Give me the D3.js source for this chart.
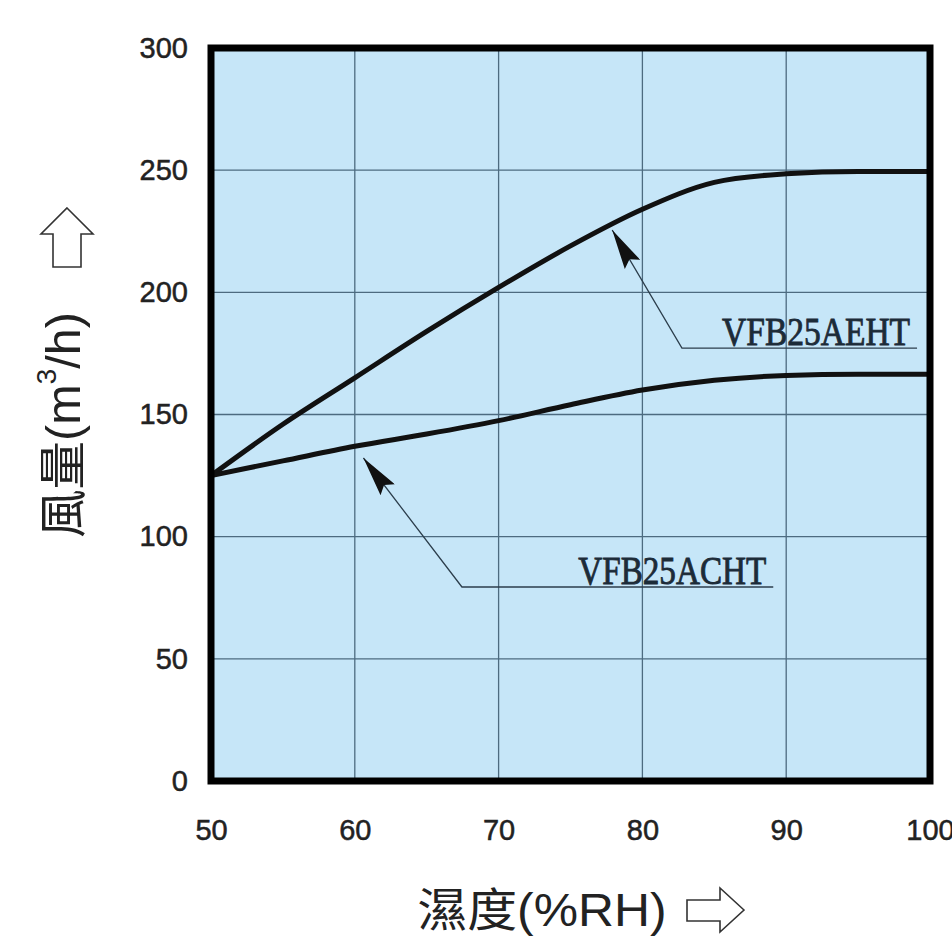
<!DOCTYPE html>
<html lang="zh-Hant">
<head>
<meta charset="UTF-8">
<title>風量 vs 濕度</title>
<script src="https://cdn.jsdelivr.net/npm/d3@7"></script>
<style>
    body { margin: 0; background: #fff; }
    svg { display: block; }
</style>
</head>
<body>
<script>
    // data
    const humidity = [50, 55, 60, 65, 70, 75, 80, 85, 90, 95, 100]
    const aehtFlow = [125, 146, 165, 184, 202, 219, 234, 245, 248.5, 249.5, 249.5]
    const achtFlow = [125, 131, 137, 142, 147.5, 154, 160, 164, 166, 166.5, 166.5]
    const xTicks = [50, 60, 70, 80, 90, 100]
    const yTicks = [0, 50, 100, 150, 200, 250, 300]
    const seriesNames = ["VFB25AEHT", "VFB25ACHT"]
    // callouts: [tip x, tip y, elbow x, elbow y, end x] in data units
    const callouts = [
        [77.9, 225.5, 82.75, 177.2, 99.1],
        [60.6, 132.2, 67.45, 79.4, 89.1]
    ]

    const W = 952, H = 939
    const m = {left: 211, top: 48, right: 22, bottom: 158}
    const w = W - m.left - m.right
    const h = H - m.top - m.bottom

    const svg = d3.select("body").append("svg").attr("width", W).attr("height", H)
    const g = svg.append("g").attr("transform", `translate(${m.left},${m.top})`)

    const x = d3.scaleLinear().domain([50, 100]).range([0, w])
    const y = d3.scaleLinear().domain([0, 300]).range([h, 0])

    // background
    g.append("rect").attr("width", w).attr("height", h).attr("fill", "#c6e6f8")

    // grid
    g.append("g").selectAll("line").data(xTicks.slice(1, -1)).join("line")
        .attr("x1", d => x(d)).attr("x2", d => x(d)).attr("y1", 0).attr("y2", h)
        .attr("stroke", "#4d6b80").attr("stroke-width", 1.3)
    g.append("g").selectAll("line").data(yTicks.slice(1, -1)).join("line")
        .attr("y1", d => y(d)).attr("y2", d => y(d)).attr("x1", 0).attr("x2", w)
        .attr("stroke", "#4d6b80").attr("stroke-width", 1.3)

    // axes labels
    const xAxis = d3.axisBottom(x).tickValues(xTicks).tickSize(0).tickPadding(38)
    const yAxis = d3.axisLeft(y).tickValues(yTicks).tickSize(0).tickPadding(23)
    const tickStyle = sel => sel.selectAll("text")
        .attr("font-size", 29).attr("font-family", "Liberation Sans, Arial")
        .attr("fill", "#222").attr("stroke", "#222").attr("stroke-width", 0.5)
    g.append("g").attr("transform", `translate(0,${h})`).call(xAxis)
        .call(a => a.select(".domain").remove()).call(tickStyle)
    g.append("g").call(yAxis)
        .call(a => a.select(".domain").remove()).call(tickStyle)

    // curves
    const line = d3.line().x(d => x(d[0])).y(d => y(d[1])).curve(d3.curveMonotoneX)
    ;[aehtFlow, achtFlow].forEach(vals => {
        g.append("path").datum(humidity.map((hm, i) => [hm, vals[i]]))
            .attr("d", line).attr("fill", "none").attr("stroke", "#111")
            .attr("stroke-width", 5).attr("stroke-linejoin", "round")
    })

    // callouts
    const defs = svg.append("defs")
    defs.append("marker").attr("id", "head").attr("viewBox", "0 0 40 18")
        .attr("refX", 0).attr("refY", 9).attr("markerWidth", 40).attr("markerHeight", 18)
        .attr("markerUnits", "userSpaceOnUse").attr("orient", "auto")
        .append("path").attr("d", "M0,9 L40,0 L34,9 L40,18 Z").attr("fill", "#111")

    callouts.forEach((c, i) => {
        g.append("path")
            .attr("d", `M${x(c[0])},${y(c[1])} L${x(c[2])},${y(c[3])} L${x(c[4])},${y(c[3])}`)
            .attr("fill", "none").attr("stroke", "#2c3e4c").attr("stroke-width", 1.3)
            .attr("marker-start", "url(#head)")
        g.append("text")
            .attr("x", x(c[4]) - 7).attr("y", y(c[3]) - 3)
            .attr("text-anchor", "end")
            .attr("font-family", "Liberation Serif, serif")
            .attr("font-size", 40)
            .attr("textLength", 188).attr("lengthAdjust", "spacingAndGlyphs")
            .attr("fill", "#1c2b38").attr("stroke", "#1c2b38").attr("stroke-width", 0.9)
            .text(seriesNames[i])
    })

    // frame
    g.append("rect").attr("width", w).attr("height", h)
        .attr("fill", "none").attr("stroke", "#000").attr("stroke-width", 7)

    // axis titles
    const titleFont = "Liberation Sans, Arial, Noto Sans CJK TC, sans-serif"
    svg.append("text")
        .attr("transform", "translate(63,425) rotate(-90)")
        .attr("text-anchor", "middle").attr("dominant-baseline", "central")
        .attr("font-family", titleFont).attr("font-size", 48).attr("fill", "#222")
        .attr("textLength", 226).attr("lengthAdjust", "spacingAndGlyphs")
        .html("風量(m<tspan font-size='28' dy='-17'>3</tspan><tspan dy='17'>/h)</tspan>")
    svg.append("text")
        .attr("x", 542).attr("y", 910)
        .attr("text-anchor", "middle").attr("dominant-baseline", "central")
        .attr("font-family", titleFont).attr("font-size", 46).attr("fill", "#222")
        .attr("textLength", 249).attr("lengthAdjust", "spacingAndGlyphs")
        .text("濕度(%RH)")

    // hollow arrows next to the titles
    svg.append("path")
        .attr("d", "M67,208 L93,234 L81,234 L81,267 L53,267 L53,234 L41,234 Z")
        .attr("fill", "#fff").attr("stroke", "#333").attr("stroke-width", 1.6)
    svg.append("path")
        .attr("d", "M744,910 L720,888 L720,900 L687,900 L687,921 L720,921 L720,932 Z")
        .attr("fill", "#fff").attr("stroke", "#333").attr("stroke-width", 1.6)
</script>
</body>
</html>
